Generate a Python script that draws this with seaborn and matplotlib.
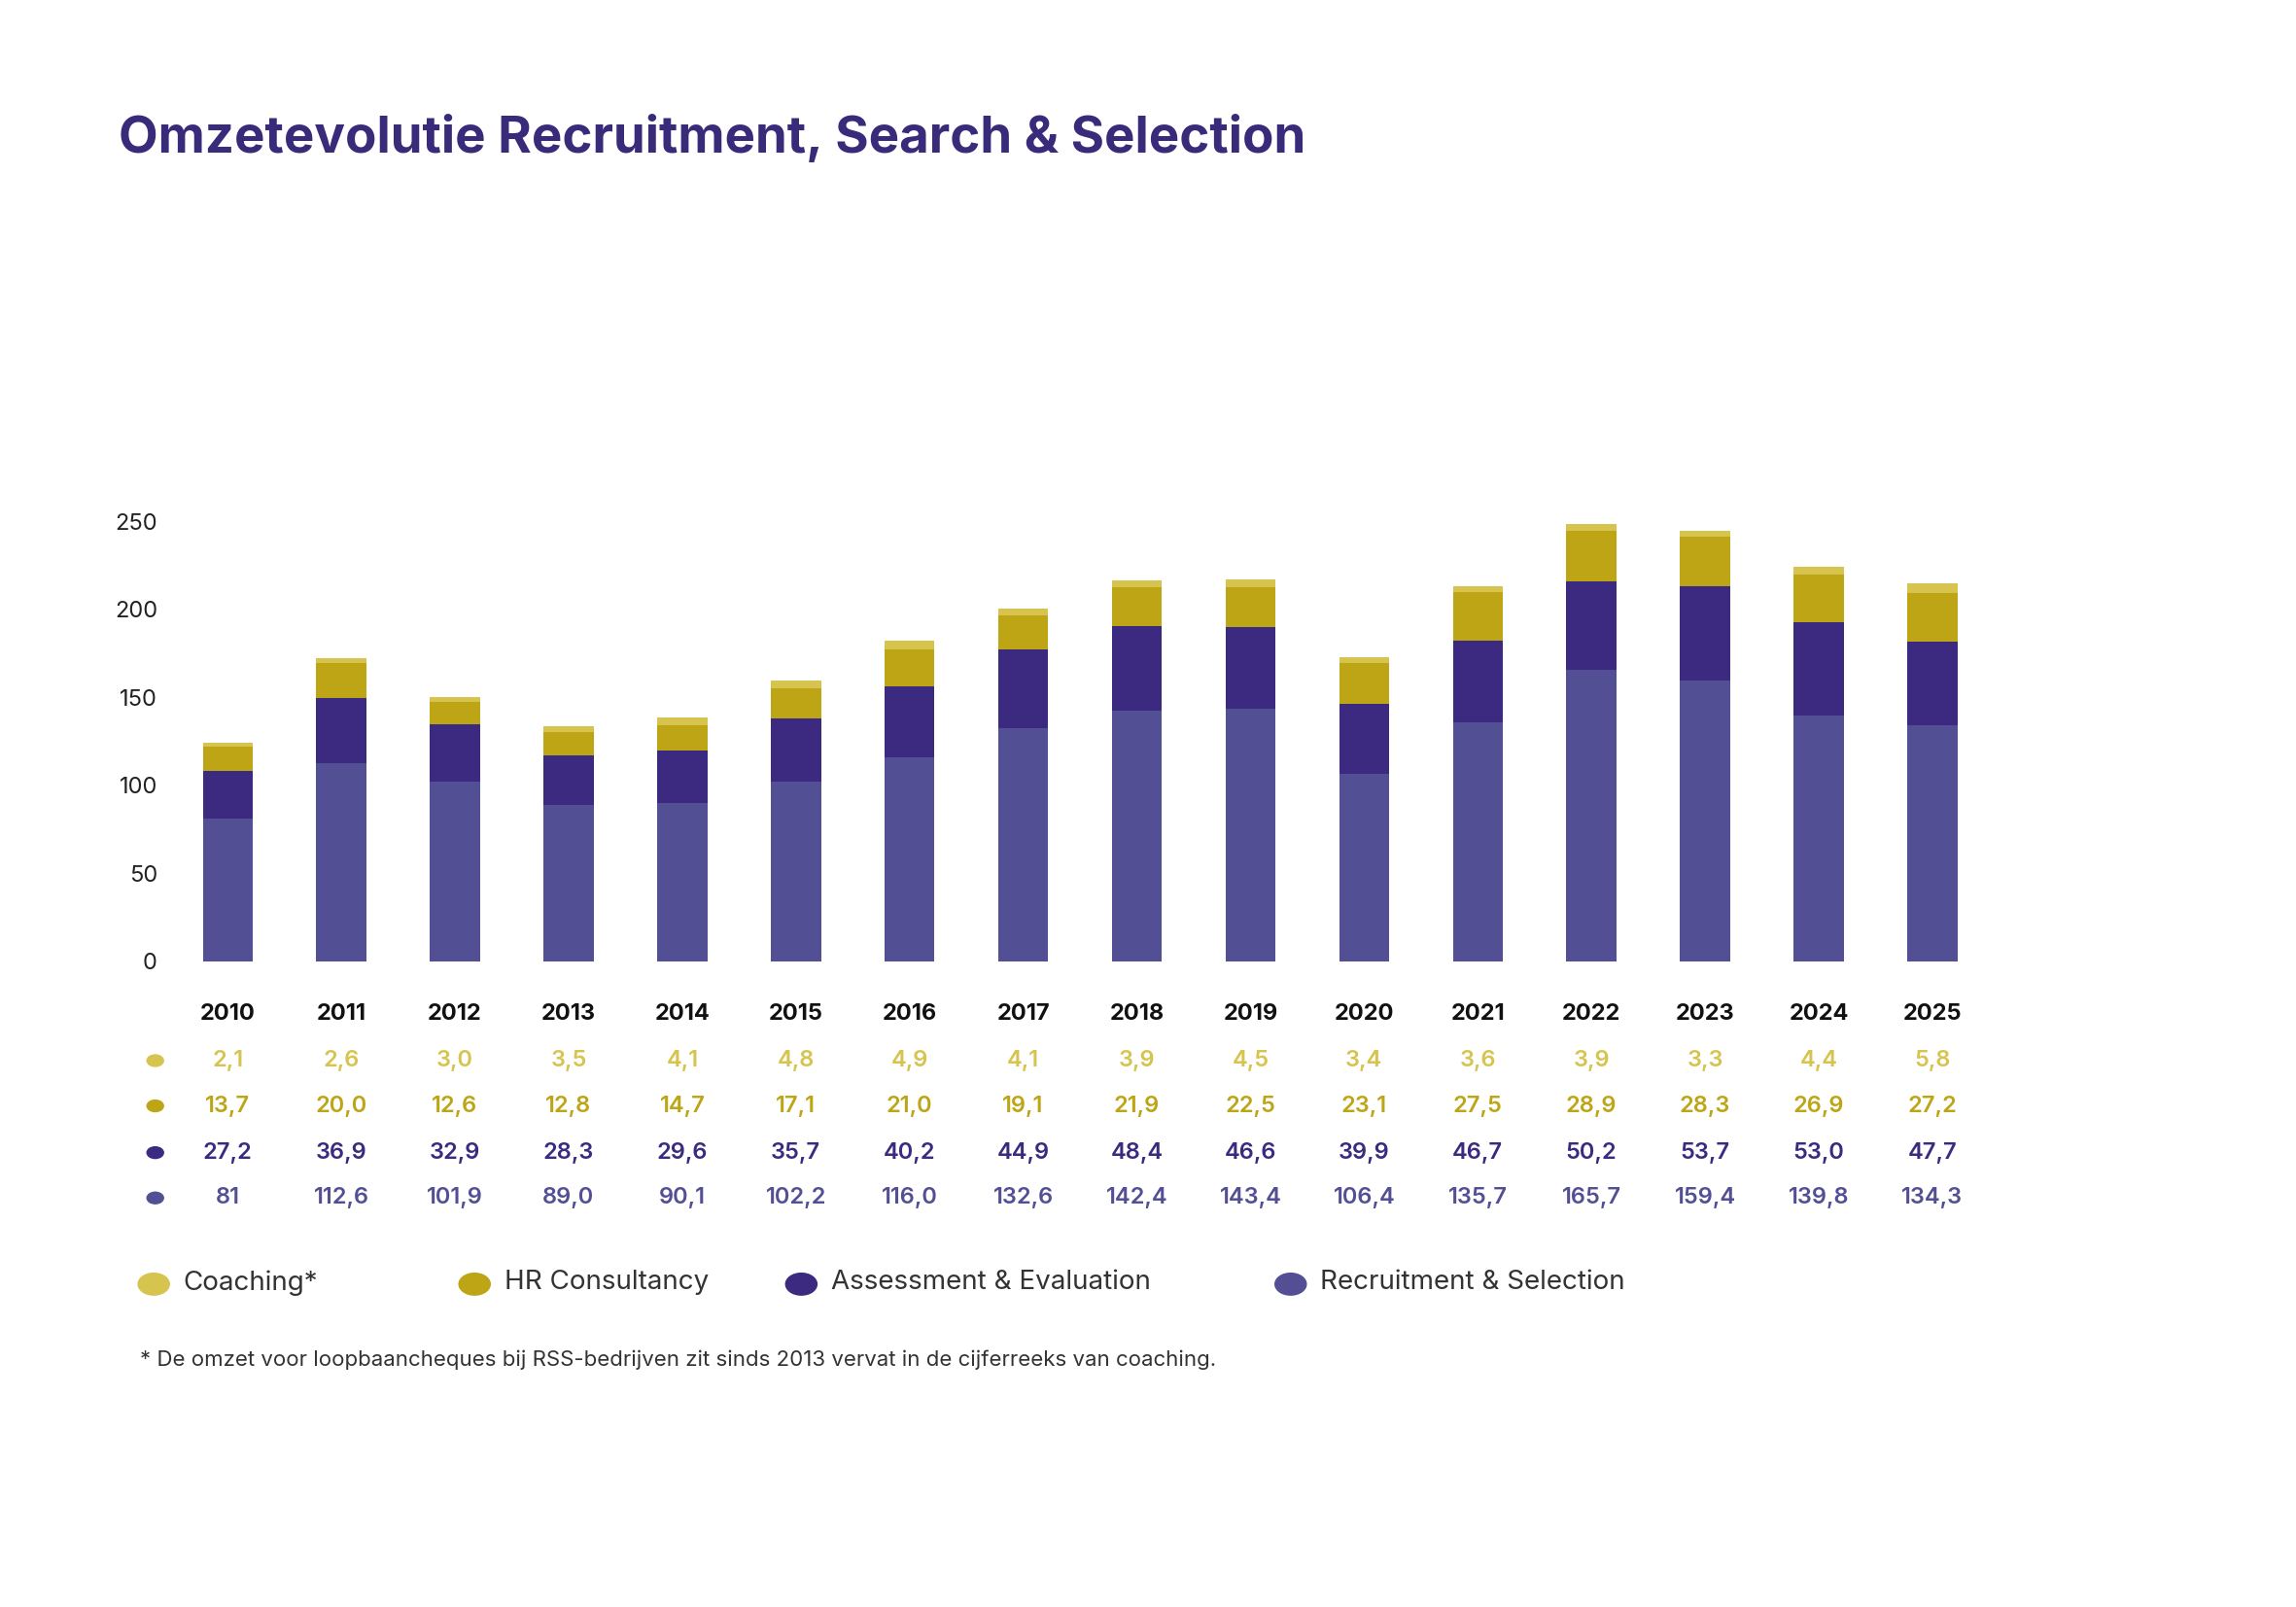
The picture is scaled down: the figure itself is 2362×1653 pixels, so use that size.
import matplotlib
matplotlib.use("Agg")
import matplotlib.pyplot as plt
import seaborn as sns
import numpy as np
import pandas as pd

years = list(range(2010, 2026))
coaching = [2.1,2.6,3.0,3.5,4.1,4.8,4.9,4.1,3.9,4.5,3.4,3.6,3.9,3.3,4.4,5.8]
hr = [13.7,20.0,12.6,12.8,14.7,17.1,21.0,19.1,21.9,22.5,23.1,27.5,28.9,28.3,26.9,27.2]
assess = [27.2,36.9,32.9,28.3,29.6,35.7,40.2,44.9,48.4,46.6,39.9,46.7,50.2,53.7,53.0,47.7]
recruit = [81,112.6,101.9,89.0,90.1,102.2,116.0,132.6,142.4,143.4,106.4,135.7,165.7,159.4,139.8,134.3]
labels = ["Coaching*", "HR Consultancy", "Assessment & Evaluation", "Recruitment & Selection"]
colors = ["#d6c44e", "#bda516", "#3b2a80", "#524f94"]

sns.set_style("white")
plt.rcParams['font.family'] = ['Inter', 'DejaVu Sans']

W, H = 1553, 1100
fig = plt.figure(figsize=(23.62, 16.53), dpi=100)
ax = fig.add_axes([115.6/W, 1-658/H, (1345.5-115.6)/W, (658-357)/H])

r = np.array(recruit); a = np.array(assess); h = np.array(hr); c = np.array(coaching)
layers = [r+a+h+c, r+a+h, r+a, r]
for vals, col in zip(layers, colors):
    df = pd.DataFrame({"year": [str(y) for y in years], "v": vals})
    sns.barplot(data=df, x="year", y="v", color=col, width=0.44, ax=ax, saturation=1, linewidth=0)

ax.set_xlim(-0.5, 15.5)
ax.set_ylim(0, 250)
ax.set_yticks([0, 50, 100, 150, 200, 250])
ax.tick_params(axis='y', labelsize=17, pad=10, length=0, colors="#222222")
ax.set_xticks([])
ax.set_xlabel(""); ax.set_ylabel("")
for s in ax.spines.values():
    s.set_visible(False)

fig.text(80/W, 1-95/H, "Omzetevolutie Recruitment, Search & Selection", fontsize=38,
         fontweight='bold', color="#3a2a7a", va='center', ha='left')

def fx(i):
    return (154 + i*76.87)/W

for i, y in enumerate(years):
    fig.text(fx(i), 1-694/H, str(y), fontsize=17, fontweight='bold', color="#111111", ha='center', va='center')

rows = [(726, coaching, colors[0]), (757, hr, colors[1]), (789, assess, colors[2]), (820, recruit, colors[3])]
for yy, vals, col in rows:
    fig.patches.append(plt.Circle((105/W, 1-yy/H), 0.0036, transform=fig.transFigure, color=col))
    for i, v in enumerate(vals):
        s = "81" if (vals is recruit and i == 0) else f"{v:.1f}".replace(".", ",")
        fig.text(fx(i), 1-yy/H, s, fontsize=17, fontweight='semibold', color=col, ha='center', va='center')

for xx, lab, col in zip([104, 321, 542, 873], labels, colors):
    fig.patches.append(plt.Circle((xx/W, 1-879/H), 0.0068, transform=fig.transFigure, color=col))
    fig.text((xx+20)/W, 1-878/H, lab, fontsize=20, color="#333333", ha='left', va='center')

fig.text(95/W, 1-931/H, "* De omzet voor loopbaancheques bij RSS-bedrijven zit sinds 2013 vervat in de cijferreeks van coaching.",
         fontsize=16, color="#333333", ha='left', va='center')

fig.savefig("out.png", dpi=100)
